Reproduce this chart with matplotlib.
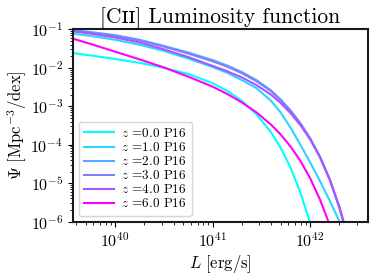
import numpy as np
import matplotlib
matplotlib.use("Agg")
import matplotlib.pyplot as plt

plt.rcParams['mathtext.fontset'] = 'cm'
plt.rcParams['font.family'] = ['cmr10', 'DejaVu Serif']
plt.rcParams['axes.formatter.use_mathtext'] = True
plt.rcParams['axes.unicode_minus'] = False

# log10(L [erg/s]) sample grid
logL = [39.5, 39.75, 40.0, 40.25, 40.5, 40.75, 41.0, 41.15, 41.3, 41.45,
        41.6, 41.7, 41.8, 41.9, 42.0, 42.1, 42.2, 42.3, 42.4]

# log10(Psi [Mpc^-3/dex])
logPsi_z0 = [-1.59, -1.68, -1.77, -1.87, -2.00, -2.16, -2.40, -2.60, -2.86, -3.21,
             -3.68, -4.09, -4.60, -5.24, -6.03, -7.01, -8.2, -9.5, -11.0]
logPsi_z1 = [-1.09, -1.17, -1.27, -1.40, -1.56, -1.76, -1.98, -2.13, -2.32, -2.53,
             -2.86, -3.17, -3.56, -4.00, -4.46, -4.94, -5.45, -5.99, -6.57]
logPsi_z2 = [-1.00, -1.07, -1.15, -1.27, -1.43, -1.60, -1.80, -1.94, -2.11, -2.32,
             -2.59, -2.83, -3.11, -3.44, -3.83, -4.31, -4.90, -5.64, -6.55]
logPsi_z3 = [-1.02, -1.09, -1.17, -1.29, -1.45, -1.63, -1.83, -1.97, -2.14, -2.35,
             -2.61, -2.85, -3.12, -3.45, -3.84, -4.31, -4.89, -5.62, -6.52]
logPsi_z4 = [-1.03, -1.11, -1.21, -1.34, -1.52, -1.72, -1.95, -2.09, -2.25, -2.45,
             -2.70, -2.92, -3.18, -3.49, -3.86, -4.32, -4.90, -5.62, -6.50]
logPsi_z6 = [-1.19, -1.38, -1.58, -1.78, -1.99, -2.23, -2.49, -2.68, -2.90, -3.16,
             -3.48, -3.74, -4.05, -4.42, -4.87, -5.42, -6.08, -6.90, -7.9]

redshifts = [0.0, 1.0, 2.0, 3.0, 4.0, 6.0]
series = [logPsi_z0, logPsi_z1, logPsi_z2, logPsi_z3, logPsi_z4, logPsi_z6]

fig = plt.figure(figsize=(3.79, 2.77), dpi=100)
ax = fig.add_axes([0.192, 0.200, 0.780, 0.694])

L = 10 ** np.array(logL)
for z, lp in zip(redshifts, series):
    ax.plot(L, 10 ** np.array(lp), color=plt.cm.cool(z / 6.0), lw=1.5,
            label=r'$z$ =' + '%.1f P16' % z)

ax.set_xscale('log')
ax.set_yscale('log')
ax.set_xlim(3.68e39, 3.96e42)
ax.set_ylim(1e-6, 1e-1)

ax.set_title('[C\u026a\u026a] Luminosity function', fontsize=15.5, pad=1)
ax.set_xlabel(r'$L\ [\mathrm{erg/s}]$', fontsize=12, labelpad=2)
ax.set_ylabel(r'$\Psi\ [\mathrm{Mpc}^{-3}/\mathrm{dex}]$', fontsize=12, labelpad=1)
ax.tick_params(axis='both', which='major', labelsize=11.5, length=3.5, width=0.8)
ax.tick_params(axis='both', which='minor', length=2, width=0.6)
for sp in ax.spines.values():
    sp.set_linewidth(1.5)
    sp.set_color('#1a1a1a')

leg = ax.legend(loc='lower left', fontsize=9.5, handlelength=2.3,
                handletextpad=0.5, labelspacing=0.08, borderpad=0.4,
                borderaxespad=0.45)

fig.savefig('out.png', dpi=100)
